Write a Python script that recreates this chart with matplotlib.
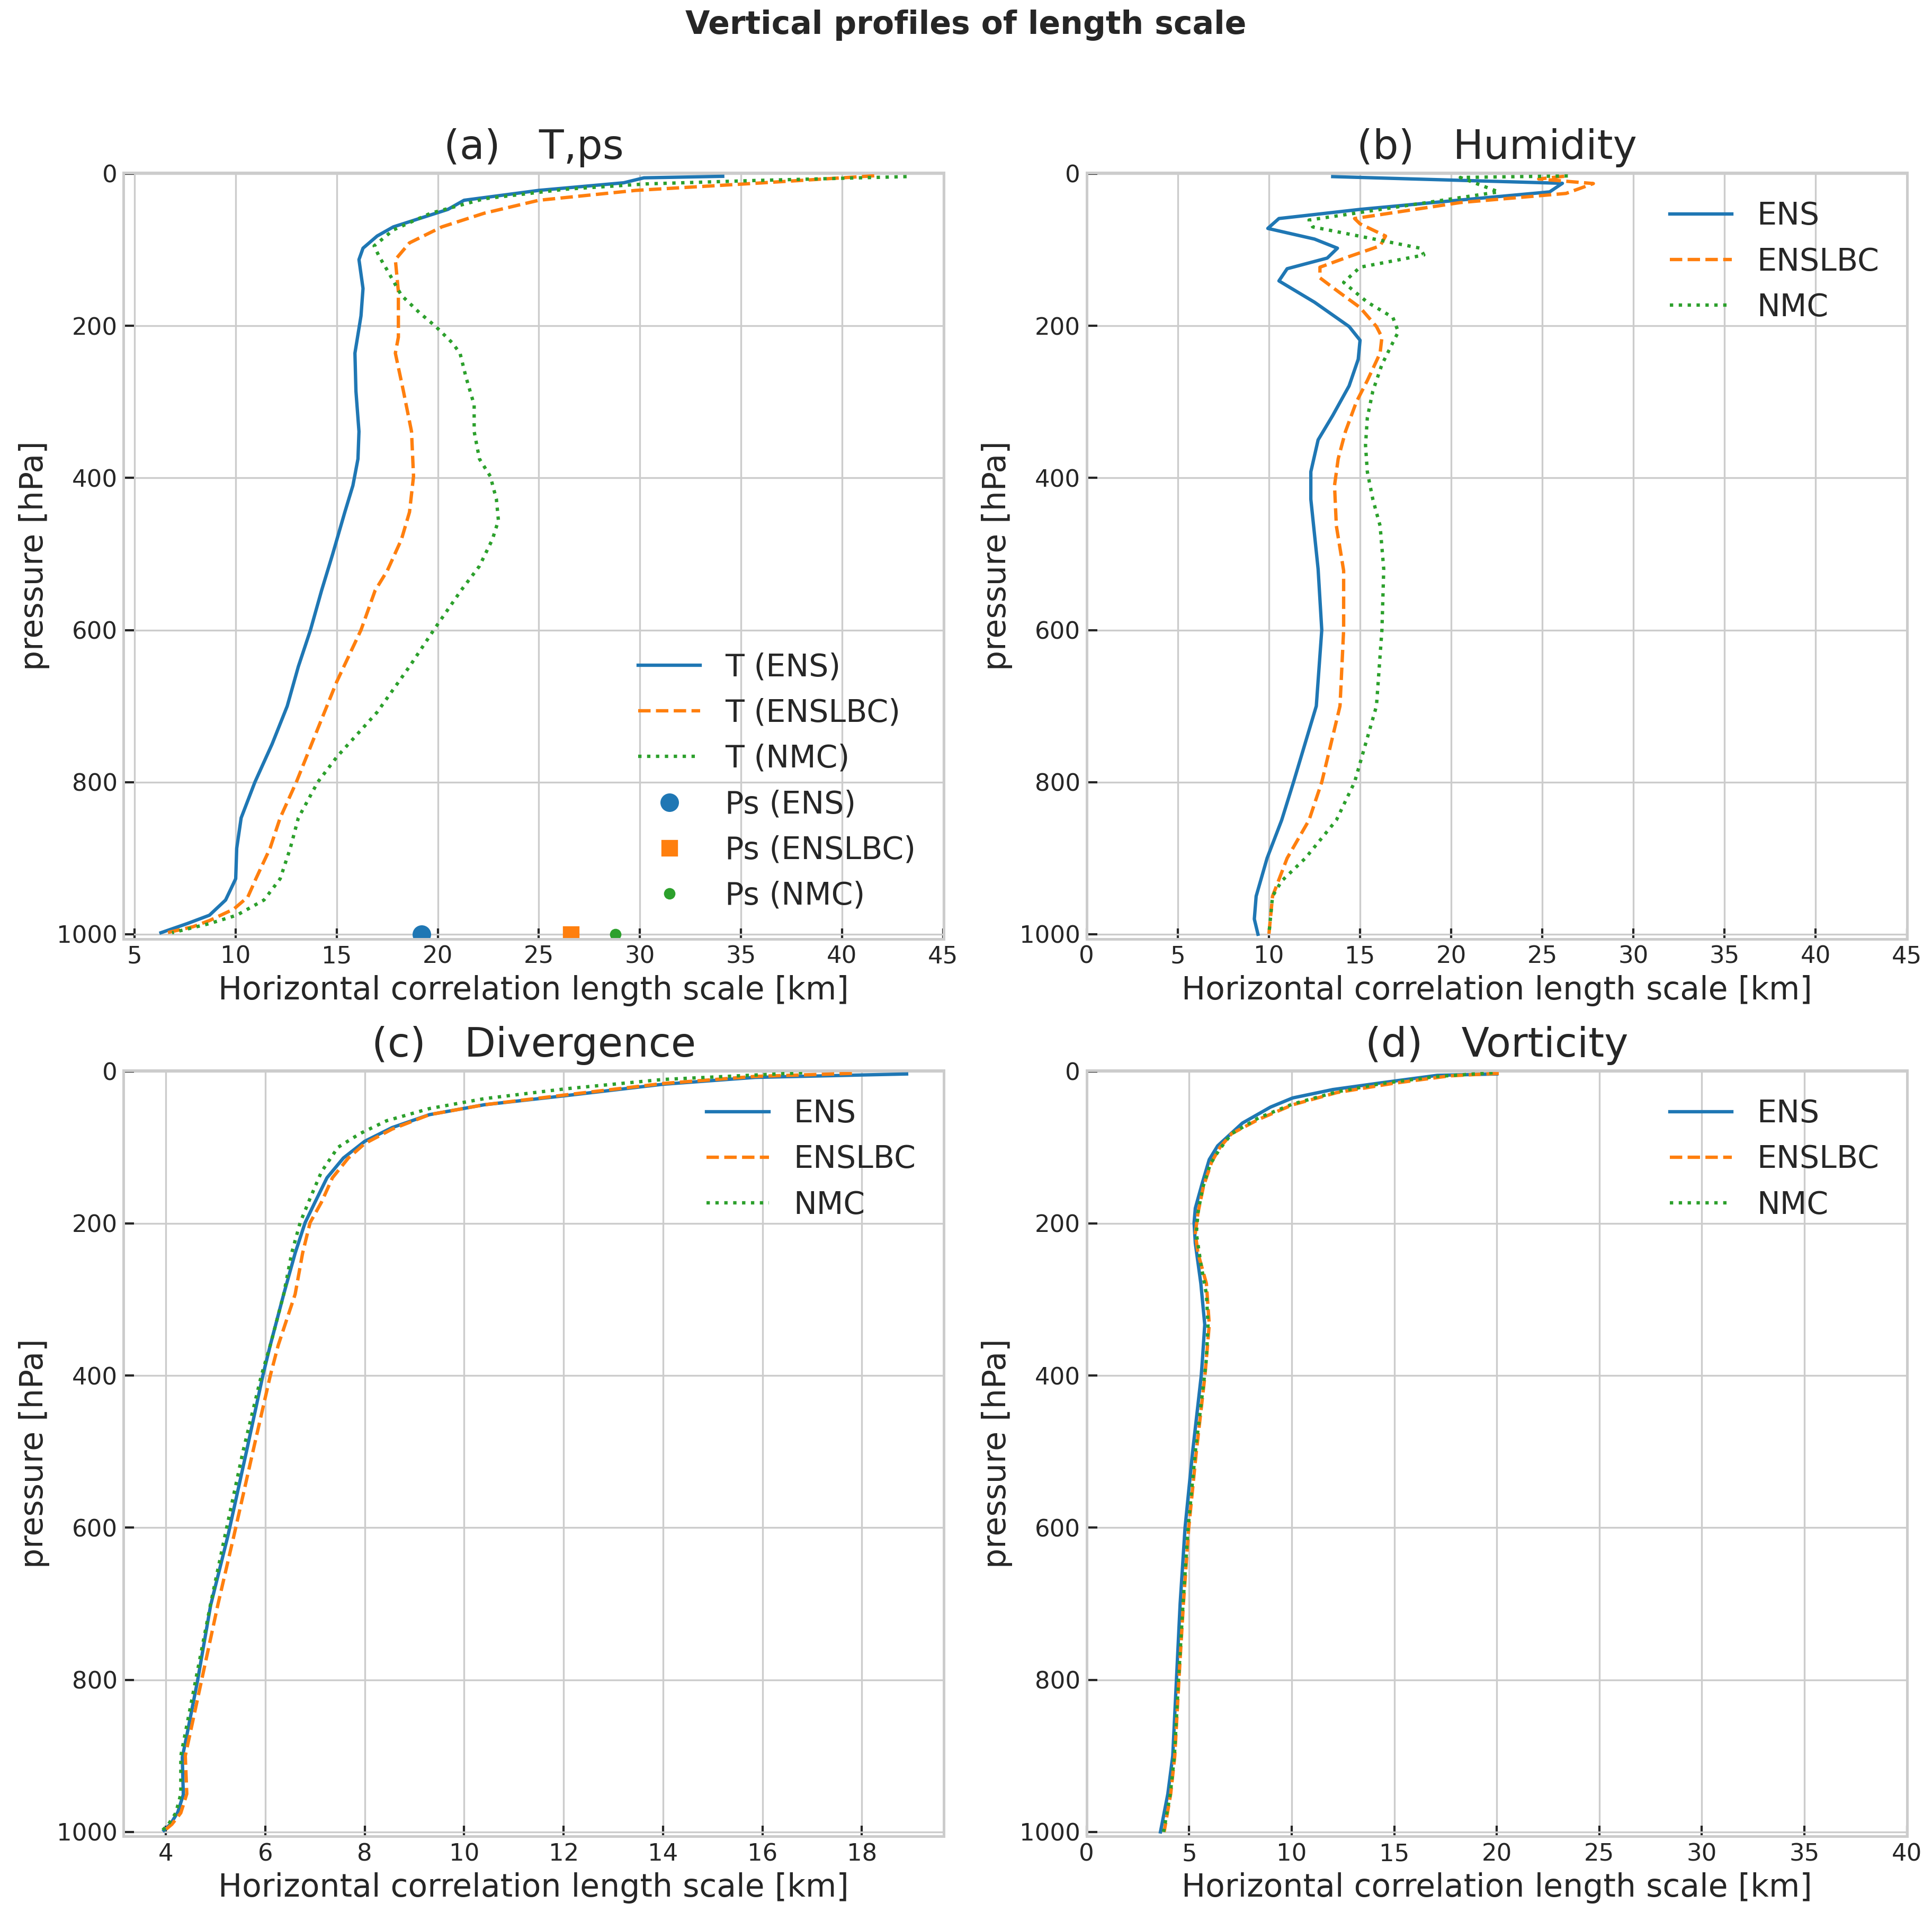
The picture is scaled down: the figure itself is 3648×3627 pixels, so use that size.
import numpy as np
import matplotlib
matplotlib.use("Agg")
import matplotlib.pyplot as plt
from matplotlib.ticker import MultipleLocator

#########################
# DATA
# pressure [hPa] / length scale [km]

# (a) T, ps
p_t_ens = [3.5, 5.5, 12, 22, 35, 47, 70, 82, 98, 113, 151, 187, 236, 286, 339, 375, 410, 445, 500,
           548, 600, 648, 700, 750, 800, 847, 887, 927, 955, 975, 986, 998]
l_t_ens = [34.1, 30.2, 29.2, 25.0, 21.3, 20.5, 17.8, 17.0, 16.3, 16.1, 16.3, 16.2, 15.9, 15.95, 16.1,
           16.05, 15.8, 15.4, 14.8, 14.25, 13.7, 13.1, 12.55, 11.8, 10.95, 10.27, 10.05, 10.0, 9.5, 8.7,
           7.6, 6.3]

p_t_enslbc = [2.8, 12.7, 22, 35, 52, 70, 91, 113, 155, 215, 236, 286, 339, 398, 445, 481, 522, 548,
              600, 668, 747, 800, 847, 887, 927, 951, 967, 982, 990, 998]
l_t_enslbc = [41.6, 35.7, 29.8, 25.0, 22.3, 20.2, 18.6, 17.9, 18.05, 18.05, 17.9, 18.3, 18.7, 18.8,
              18.6, 18.2, 17.5, 16.9, 16.2, 15.0, 13.8, 13.0, 12.2, 11.7, 11.0, 10.6, 9.9, 8.7, 7.9, 6.6]

p_t_nmc = [3.9, 9, 13.5, 20.5, 33, 52, 74, 95, 109, 127, 160, 183, 201, 222, 236, 268, 304, 339,
           375, 398, 428, 456, 481, 516, 548, 600, 648, 708, 767, 800, 847, 887, 927, 955, 975, 986, 998]
l_t_nmc = [43.2, 35.7, 30.3, 26.3, 22.3, 19.65, 17.8, 16.85, 17.1, 17.5, 18.2, 19.1, 19.9, 20.7, 21.1,
           21.4, 21.8, 21.8, 22.06, 22.6, 22.9, 23.0, 22.7, 22.06, 21.15, 19.8, 18.6, 17.0, 15.0, 14.06,
           13.1, 12.7, 12.2, 11.4, 10.05, 8.7, 6.85]

p_surface = 1000
ps_ens = 19.2
ps_enslbc = 26.6
ps_nmc = 28.8

# (b) Humidity
p_q_ens = [3.9, 12.7, 24, 36, 47, 59, 72, 86, 98, 111, 125, 141, 169, 201, 219, 244, 279, 318, 350,
           392, 428, 520, 600, 700, 800, 850, 900, 950, 980, 1000]
l_q_ens = [13.5, 26.1, 25.4, 19.9, 15.0, 10.55, 9.94, 12.5, 13.76, 13.2, 11.0, 10.55, 12.5, 14.4, 15.0,
           14.9, 14.4, 13.5, 12.7, 12.3, 12.3, 12.7, 12.9, 12.6, 11.35, 10.7, 9.9, 9.3, 9.2, 9.4]

p_q_enslbc = [3.5, 7, 13, 26, 38, 59, 66, 82, 95, 109, 123, 137, 155, 176, 201, 215, 236, 272, 300,
              339, 375, 410, 463, 522, 600, 700, 800, 850, 900, 950, 1000]
l_q_enslbc = [26.2, 24.8, 27.8, 26.3, 20.5, 14.7, 15.0, 16.4, 16.1, 14.4, 12.8, 12.8, 13.8, 15.0, 15.9,
              16.2, 16.1, 15.4, 14.8, 14.2, 13.8, 13.6, 13.7, 14.1, 14.1, 13.9, 12.9, 12.2, 11.0, 10.2, 10.0]

p_q_nmc = [3, 5, 24, 61, 70, 98, 107, 123, 143, 169, 189, 208, 222, 251, 286, 321, 357, 392, 428,
           463, 520, 600, 700, 800, 850, 900, 930, 950, 1000]
l_q_nmc = [26.4, 20.5, 22.6, 12.2, 12.4, 18.3, 18.5, 15.0, 14.1, 15.4, 16.8, 17.1, 16.8, 16.2, 15.7,
           15.4, 15.3, 15.4, 15.7, 16.1, 16.3, 16.2, 15.9, 14.7, 13.7, 12.0, 10.7, 10.2, 10.0]

# (c) Divergence
p_d_ens = [3.5, 8, 17, 32, 44, 57, 74, 92, 114, 140, 172, 199, 239, 293, 360, 400, 500, 610, 702,
           800, 870, 902, 951, 974, 990, 998]
l_d_ens = [18.9, 15.85, 14.0, 12.04, 10.4, 9.3, 8.55, 8.0, 7.57, 7.24, 7.0, 6.8, 6.6, 6.37, 6.1, 5.95,
           5.62, 5.25, 4.9, 4.64, 4.43, 4.33, 4.35, 4.24, 4.09, 3.96]

p_d_enslbc = [2.7, 6.7, 16, 31, 44, 57, 76, 95, 114, 140, 172, 199, 239, 293, 360, 400, 500, 610,
              700, 800, 900, 950, 975, 990, 1000]
l_d_enslbc = [17.8, 15.85, 14.0, 12.04, 10.4, 9.3, 8.55, 8.0, 7.67, 7.35, 7.13, 6.9, 6.75, 6.6, 6.26,
              6.1, 5.75, 5.37, 5.05, 4.72, 4.39, 4.42, 4.3, 4.12, 3.94]

p_d_nmc = [1.9, 10.7, 23, 36, 49, 65, 82, 100, 132, 167, 199, 239, 293, 360, 400, 500, 610, 700,
           800, 900, 950, 975, 990, 1000]
l_d_nmc = [16.8, 14.0, 12.04, 10.4, 9.3, 8.44, 7.9, 7.46, 7.13, 6.9, 6.7, 6.53, 6.37, 6.1, 5.92, 5.55,
           5.19, 4.9, 4.6, 4.3, 4.3, 4.2, 4.05, 3.9]

# (d) Vorticity
p_v_ens = [3.5, 5.3, 15, 24, 35, 47, 68, 98, 116, 146, 180, 199, 226, 279, 333, 378, 400, 500, 600,
           700, 800, 900, 950, 1000]
l_v_ens = [20.0, 17.1, 14.4, 12.0, 10.05, 8.97, 7.6, 6.39, 5.98, 5.65, 5.3, 5.24, 5.3, 5.57, 5.76,
           5.65, 5.59, 5.17, 4.8, 4.56, 4.38, 4.2, 3.96, 3.6]

p_v_enslbc = [2.7, 6, 16, 28, 44, 63, 82, 100, 119, 151, 186, 213, 239, 279, 333, 378, 400, 500, 600,
              700, 800, 900, 950, 1000]
l_v_enslbc = [20.1, 17.7, 14.9, 12.2, 10.05, 8.4, 7.07, 6.5, 6.1, 5.7, 5.43, 5.3, 5.43, 5.84, 5.98,
              5.84, 5.77, 5.35, 4.98, 4.72, 4.5, 4.3, 4.1, 3.78]

p_v_nmc = [1.9, 6.7, 16, 27, 43, 61, 82, 103, 122, 154, 186, 213, 253, 293, 333, 378, 400, 500, 600,
           700, 800, 900, 950, 1000]
l_v_nmc = [19.8, 17.1, 14.4, 12.2, 10.05, 8.4, 7.07, 6.47, 6.03, 5.65, 5.43, 5.35, 5.57, 5.84, 5.92,
           5.84, 5.75, 5.3, 4.95, 4.7, 4.48, 4.28, 4.08, 3.75]

#########################
# STYLE
plt.rcParams.update({
    "font.family": "DejaVu Sans",
    "text.color": "0.15",
    "axes.labelcolor": "0.15",
    "axes.edgecolor": "0.8",
    "axes.linewidth": 1.5,
    "axes.grid": True,
    "axes.titlepad": 8,
    "grid.color": "0.8",
    "grid.linewidth": 1.0,
    "xtick.color": "0.15",
    "ytick.color": "0.15",
    "xtick.direction": "in",
    "ytick.direction": "in",
    "xtick.major.size": 6,
    "ytick.major.size": 6,
    "xtick.major.width": 1.25,
    "ytick.major.width": 1.25,
    "xtick.labelsize": 13.5,
    "ytick.labelsize": 13.5,
    "axes.labelsize": 18,
    "axes.titlesize": 23,
    "legend.fontsize": 17.6,
    "lines.linewidth": 1.9,
})

c_ens, c_enslbc, c_nmc = "#1f77b4", "#ff7f0e", "#2ca02c"

fig, axs = plt.subplots(2, 2, figsize=(3648 / 240, 3627 / 240), dpi=240)
fig.subplots_adjust(left=0.064, right=0.987, top=0.910, bottom=0.044, wspace=0.174, hspace=0.172)
fig.suptitle("Vertical profiles of length scale", fontsize=18, fontweight="bold", y=0.995)


def style_axis(ax, title):
    ax.set_title(title)
    ax.set_xlabel("Horizontal correlation length scale [km]")
    ax.set_ylabel("pressure [hPa]")
    ax.set_ylim(1006, -1)
    ax.yaxis.set_major_locator(MultipleLocator(200))
    ax.set_axisbelow(True)


# (a)
ax = axs[0, 0]
ax.plot(l_t_ens, p_t_ens, "-", color=c_ens, label="T (ENS)")
ax.plot(l_t_enslbc, p_t_enslbc, "--", color=c_enslbc, label="T (ENSLBC)")
ax.plot(l_t_nmc, p_t_nmc, ":", color=c_nmc, label="T (NMC)")
ax.plot(ps_ens, p_surface, "o", color=c_ens, markersize=9.5, label="Ps (ENS)")
ax.plot(ps_enslbc, p_surface, "s", color=c_enslbc, markersize=8.5, label="Ps (ENSLBC)")
ax.plot(ps_nmc, p_surface, ".", color=c_nmc, markersize=11, label="Ps (NMC)")
ax.margins(x=0.05)
ax.xaxis.set_major_locator(MultipleLocator(5))
style_axis(ax, "(a)   T,ps")
ax.legend(loc="lower right", frameon=False)

# (b)
ax = axs[0, 1]
ax.plot(l_q_ens, p_q_ens, "-", color=c_ens, label="ENS")
ax.plot(l_q_enslbc, p_q_enslbc, "--", color=c_enslbc, label="ENSLBC")
ax.plot(l_q_nmc, p_q_nmc, ":", color=c_nmc, label="NMC")
ax.set_xlim(0, 45)
ax.xaxis.set_major_locator(MultipleLocator(5))
style_axis(ax, "(b)   Humidity")
ax.legend(loc="upper right", frameon=False)

# (c)
ax = axs[1, 0]
ax.plot(l_d_ens, p_d_ens, "-", color=c_ens, label="ENS")
ax.plot(l_d_enslbc, p_d_enslbc, "--", color=c_enslbc, label="ENSLBC")
ax.plot(l_d_nmc, p_d_nmc, ":", color=c_nmc, label="NMC")
ax.margins(x=0.05)
ax.xaxis.set_major_locator(MultipleLocator(2))
style_axis(ax, "(c)   Divergence")
ax.legend(loc="upper right", frameon=False)

# (d)
ax = axs[1, 1]
ax.plot(l_v_ens, p_v_ens, "-", color=c_ens, label="ENS")
ax.plot(l_v_enslbc, p_v_enslbc, "--", color=c_enslbc, label="ENSLBC")
ax.plot(l_v_nmc, p_v_nmc, ":", color=c_nmc, label="NMC")
ax.set_xlim(0, 40)
ax.xaxis.set_major_locator(MultipleLocator(5))
style_axis(ax, "(d)   Vorticity")
ax.legend(loc="upper right", frameon=False)

fig.savefig("out.png", dpi=240)
